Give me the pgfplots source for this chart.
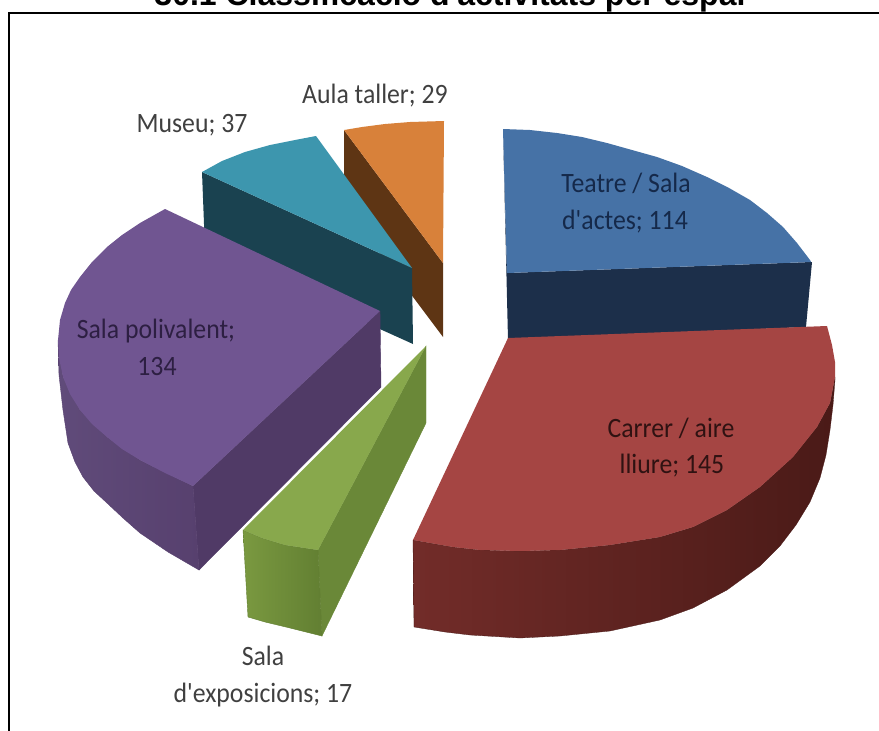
\documentclass[border=0pt]{standalone}
\usepackage{graphicx}
\usepackage{pgfplots}
\pgfplotsset{compat=1.18}
\usepackage{fontspec}
\setmainfont{Carlito}
\newfontfamily\labfont{Carlito}
\newfontfamily\titlefont{Liberation Sans}
\newcommand{\lab}[1]{\scalebox{0.92}[1]{#1}}
\definecolor{blueT}{HTML}{4672A6}
\definecolor{blueS}{HTML}{1C2F4A}
\definecolor{redT}{HTML}{A54543}
\definecolor{redL}{HTML}{722C29}
\definecolor{redM}{HTML}{551F1C}
\definecolor{redR}{HTML}{4A1A17}
\definecolor{purT}{HTML}{705591}
\definecolor{purL}{HTML}{604B7A}
\definecolor{purR}{HTML}{57406E}
\definecolor{purS}{HTML}{503A66}
\definecolor{greT}{HTML}{88A84C}
\definecolor{greS}{HTML}{6A8838}
\definecolor{greL}{HTML}{7A9940}
\definecolor{greR}{HTML}{627F32}
\definecolor{teaT}{HTML}{3D96AE}
\definecolor{teaS}{HTML}{1A4250}
\definecolor{oraT}{HTML}{D8813A}
\definecolor{oraS}{HTML}{5E3514}
\definecolor{txtG}{HTML}{404040}
\definecolor{txtB}{HTML}{15294A}
\definecolor{txtR}{HTML}{2F1212}
\definecolor{txtP}{HTML}{2D1F42}
\begin{document}
\begin{tikzpicture}
\path[use as bounding box,clip] (0,0) rectangle (879pt,731pt);
\begin{axis}[at={(0,0)},anchor=south west,scale only axis,width=879pt,height=731pt,
  xmin=0,xmax=879,ymin=0,ymax=731,y dir=reverse,hide axis,clip=false]
% frame
\addplot[black,line width=2.2pt] coordinates {(9,731) (9,13) (879,13)};
% Aula taller
\addplot[draw=none,fill=oraS] coordinates {(344,130) (443,263) (443,337) (344,205)} -- cycle;
\addplot[draw=none,fill=oraT] coordinates {(344,130) (362,127) (385,124) (410,122) (444,121) (443,263)} -- cycle;
% Museu
\addplot[draw=none,fill=teaS] coordinates {(202,172) (412,268) (413,344) (205,250)} -- cycle;
\addplot[draw=none,fill=teaT] coordinates {(202,172) (222,161) (245,152) (270,145) (295,140) (316,136) (412,268)} -- cycle;
% Teatre
\addplot[draw=none,fill=blueS] coordinates {(503,129) (507,273) (812,262) (806,327) (508,340)} -- cycle;
\addplot[draw=none,fill=blueT] coordinates {(503,129) (530,130) (557,133) (582,137) (607,143) (632,150) (657,157) (682,166) (707,177) (729,188) (750,200) (767,213) (783,227) (797,243) (810,260) (811,262) (507,273)} -- cycle;
% Sala polivalent
\addplot[draw=purS,line width=.4pt,fill=purS] coordinates {(380,311) (381,387) (199,570) (193,486)} -- cycle;
\addplot[draw=purR,line width=.4pt,left color=purL,right color=purR] coordinates {(58,340) (63,377) (80,410) (107,437) (140,460) (193,486) (199,570) (168,552) (140,533) (123,518) (107,503) (94,491) (83,477) (75,462) (68,443) (63,410) (59,375)} -- cycle;
\addplot[draw=none,fill=purT] coordinates {(165,209) (140,223) (122,235) (107,247) (92,262) (80,277) (71,290) (65,303) (60,320) (58,340) (59,358) (63,377) (70,394) (80,410) (92,424) (107,437) (122,449) (140,460) (165,473) (193,486) (380,311)} -- cycle;
% Sala d'exposicions
\addplot[draw=greS,line width=.4pt,fill=greS] coordinates {(426,346) (318,550) (322,636) (426,423)} -- cycle;
\addplot[draw=greR,line width=.4pt,left color=greL,right color=greR] coordinates {(243,530) (262,538) (285,545) (318,550) (322,636) (290,628) (265,622) (248,617)} -- cycle;
\addplot[draw=none,fill=greT] coordinates {(426,346) (243,530) (262,538) (285,545) (318,550)} -- cycle;
% Carrer
\addplot[draw=redR,line width=.3pt,left color=redL,middle color=redM,right color=redR] coordinates {(413,540) (453,547) (480,550) (520,551) (560,550) (610,545) (660,537) (693,527) (727,510) (760,487) (793,457) (817,427) (830,403) (835,377) (835,380) (833,405) (830,430) (826,455) (820,478) (810,502) (796,525) (780,546) (760,566) (727,590) (693,608) (660,620) (610,631) (560,636) (520,638) (470,635) (445,632) (414,627)} -- cycle;
\addplot[draw=none,fill=redT] coordinates {(508,338) (827,326) (832,345) (835,362) (835,377) (830,403) (817,427) (793,457) (760,487) (727,510) (693,527) (660,537) (610,545) (560,550) (520,551) (480,550) (453,547) (413,540)} -- cycle;
% labels
\begin{scope}[every node/.style={font=\labfont\fontsize{28}{28}\selectfont,inner sep=0pt,anchor=base}]
\node[text=txtG] at (axis cs:375,103) {\lab{Aula taller; 29}};
\node[text=txtG] at (axis cs:192,132) {\lab{Museu; 37}};
\node[text=txtG] at (axis cs:263,665) {\lab{Sala}};
\node[text=txtG] at (axis cs:263,702) {\lab{d'exposicions; 17}};
\node[text=txtB] at (axis cs:626,192) {\lab{Teatre / Sala}};
\node[text=txtB] at (axis cs:625,229) {\lab{d'actes; 114}};
\node[text=txtR] at (axis cs:671,437) {\lab{Carrer / aire}};
\node[text=txtR] at (axis cs:672,473) {\lab{lliure; 145}};
\node[text=txtP] at (axis cs:156,338) {\lab{Sala polivalent;}};
\node[text=txtP] at (axis cs:157,375) {\lab{134}};
\node[font=\titlefont\bfseries\fontsize{32}{32}\selectfont,anchor=base,text=black] at (axis cs:450,5) {30.1 Classificació d'activitats per espai};
\end{scope}
\end{axis}
\end{tikzpicture}
\end{document}
